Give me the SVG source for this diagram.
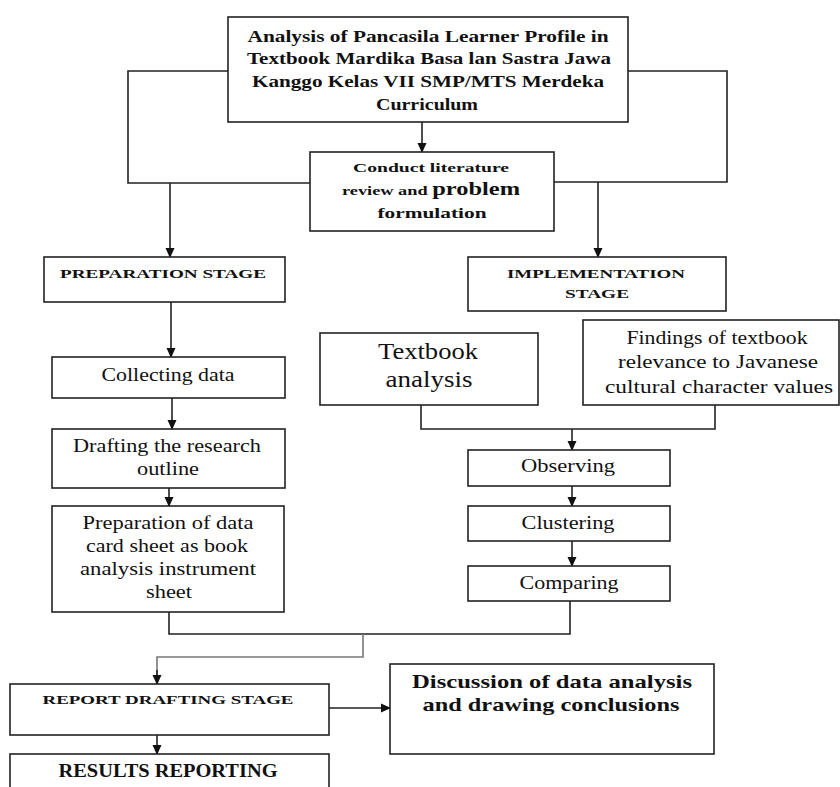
<svg xmlns="http://www.w3.org/2000/svg" width="840" height="787" viewBox="0 0 840 787">
<style>
.box{fill:#fff;stroke:#222;stroke-width:1.6}
.ln{fill:none;stroke:#222;stroke-width:1.6}
.gray{fill:none;stroke:#777;stroke-width:1.6}
text{font-family:"Liberation Serif","Times New Roman",serif;fill:#111;text-anchor:middle}
.b{font-weight:bold}
.r{font-size:18px}
.cap{font-size:13.5px;font-weight:bold}
</style>
<defs>
<marker id="ah" markerWidth="10" markerHeight="10" refX="9" refY="5" orient="auto" markerUnits="userSpaceOnUse">
<path d="M0,0.5 L10,5 L0,9.5 Z" fill="#111"/>
</marker>
</defs>
<rect width="840" height="787" fill="#fff"/>
<g id="connectors">
<path class="ln" d="M422,122 V152" marker-end="url(#ah)"/>
<path class="ln" d="M228,71 H128 V183 H310"/>
<path class="ln" d="M628,71 H727 V182 H554"/>
<path class="ln" d="M170,183 V257" marker-end="url(#ah)"/>
<path class="ln" d="M598,182 V257" marker-end="url(#ah)"/>
<path class="ln" d="M171,302 V357" marker-end="url(#ah)"/>
<path class="ln" d="M172,398 V429" marker-end="url(#ah)"/>
<path class="ln" d="M169,488 V506" marker-end="url(#ah)"/>
<path class="ln" d="M421,405 V429 H715 V405"/>
<path class="ln" d="M572,429 V450" marker-end="url(#ah)"/>
<path class="ln" d="M572,486 V506" marker-end="url(#ah)"/>
<path class="ln" d="M572,541 V566" marker-end="url(#ah)"/>
<path class="ln" d="M169,612 V634 H570 V601"/>
<path class="gray" d="M363,634 V657 H157 V676"/>
<path class="ln" d="M157,670 V684" marker-end="url(#ah)"/>
<path class="ln" d="M329,708 H390" marker-end="url(#ah)"/>
<path class="ln" d="M157,735 V754" marker-end="url(#ah)"/>
</g>
<g id="n-top">
<rect class="box" x="228" y="17" width="400" height="105"/>
<text class="b" font-size="17" x="428" y="42" textLength="361" lengthAdjust="spacingAndGlyphs">Analysis of Pancasila  Learner Profile in</text>
<text class="b" font-size="17" x="429" y="64" textLength="364" lengthAdjust="spacingAndGlyphs">Textbook Mardika Basa lan Sastra Jawa</text>
<text class="b" font-size="17" x="428" y="87" textLength="352" lengthAdjust="spacingAndGlyphs">Kanggo Kelas VII SMP/MTS Merdeka</text>
<text class="b" font-size="17" x="427" y="110" textLength="102" lengthAdjust="spacingAndGlyphs">Curriculum</text>
</g>
<g id="n-conduct">
<rect class="box" x="310" y="152" width="244" height="79"/>
<text class="b" font-size="13.5" x="431" y="172" textLength="156" lengthAdjust="spacingAndGlyphs">Conduct literature</text>
<text class="b" x="431" y="195" textLength="178" lengthAdjust="spacingAndGlyphs"><tspan font-size="13.5">review and </tspan><tspan font-size="18">problem</tspan></text>
<text class="b" font-size="15.5" x="432" y="218" textLength="109" lengthAdjust="spacingAndGlyphs">formulation</text>
</g>
<g id="n-prep-stage">
<rect class="box" x="44" y="257" width="241" height="45"/>
<text class="cap" x="163" y="278" textLength="206" lengthAdjust="spacingAndGlyphs">PREPARATION STAGE</text>
</g>
<g id="n-impl-stage">
<rect class="box" x="468" y="257" width="258" height="54"/>
<text class="cap" x="596" y="278" textLength="178" lengthAdjust="spacingAndGlyphs">IMPLEMENTATION</text>
<text class="cap" x="597" y="298" textLength="64" lengthAdjust="spacingAndGlyphs">STAGE</text>
</g>
<g id="n-collecting">
<rect class="box" x="52" y="357" width="233" height="41"/>
<text class="r" x="168" y="381" textLength="133" lengthAdjust="spacingAndGlyphs">Collecting data</text>
</g>
<g id="n-drafting">
<rect class="box" x="52" y="429" width="233" height="59"/>
<text class="r" x="167" y="452" textLength="188" lengthAdjust="spacingAndGlyphs">Drafting the research</text>
<text class="r" x="168" y="475" textLength="62" lengthAdjust="spacingAndGlyphs">outline</text>
</g>
<g id="n-datacard">
<rect class="box" x="52" y="506" width="232" height="106"/>
<text class="r" x="168" y="529" textLength="171" lengthAdjust="spacingAndGlyphs">Preparation of data</text>
<text class="r" x="167" y="552" textLength="162" lengthAdjust="spacingAndGlyphs">card sheet as book</text>
<text class="r" x="168" y="575" textLength="176" lengthAdjust="spacingAndGlyphs">analysis instrument</text>
<text class="r" x="169" y="598" textLength="46" lengthAdjust="spacingAndGlyphs">sheet</text>
</g>
<g id="n-textbook">
<rect class="box" x="320" y="333" width="218" height="72"/>
<text font-size="23" x="428" y="359" textLength="100" lengthAdjust="spacingAndGlyphs">Textbook</text>
<text font-size="23" x="429" y="387" textLength="87" lengthAdjust="spacingAndGlyphs">analysis</text>
</g>
<g id="n-findings">
<rect class="box" x="583" y="320" width="256" height="85"/>
<text class="r" x="717" y="344" textLength="181" lengthAdjust="spacingAndGlyphs">Findings of textbook</text>
<text class="r" x="718" y="368" textLength="200" lengthAdjust="spacingAndGlyphs">relevance to Javanese</text>
<text class="r" x="719" y="393" textLength="228" lengthAdjust="spacingAndGlyphs">cultural character values</text>
</g>
<g id="n-observing">
<rect class="box" x="468" y="450" width="202" height="36"/>
<text class="r" x="568" y="472" textLength="94" lengthAdjust="spacingAndGlyphs">Observing</text>
</g>
<g id="n-clustering">
<rect class="box" x="468" y="506" width="202" height="35"/>
<text class="r" x="568" y="529" textLength="93" lengthAdjust="spacingAndGlyphs">Clustering</text>
</g>
<g id="n-comparing">
<rect class="box" x="468" y="566" width="202" height="35"/>
<text class="r" x="569" y="589" textLength="99" lengthAdjust="spacingAndGlyphs">Comparing</text>
</g>
<g id="n-report">
<rect class="box" x="10" y="684" width="319" height="51"/>
<text class="cap" font-size="14.5" x="168" y="704" textLength="251" lengthAdjust="spacingAndGlyphs">REPORT DRAFTING STAGE</text>
</g>
<g id="n-discussion">
<rect class="box" x="390" y="664" width="324" height="90"/>
<text class="b" font-size="19" x="552" y="688" textLength="280" lengthAdjust="spacingAndGlyphs">Discussion of data analysis</text>
<text class="b" font-size="19" x="551" y="711" textLength="257" lengthAdjust="spacingAndGlyphs">and drawing conclusions</text>
</g>
<g id="n-results">
<rect class="box" x="10" y="754" width="319" height="50"/>
<text class="b" font-size="18" x="168" y="777" textLength="219" lengthAdjust="spacingAndGlyphs">RESULTS REPORTING</text>
</g>
</svg>
